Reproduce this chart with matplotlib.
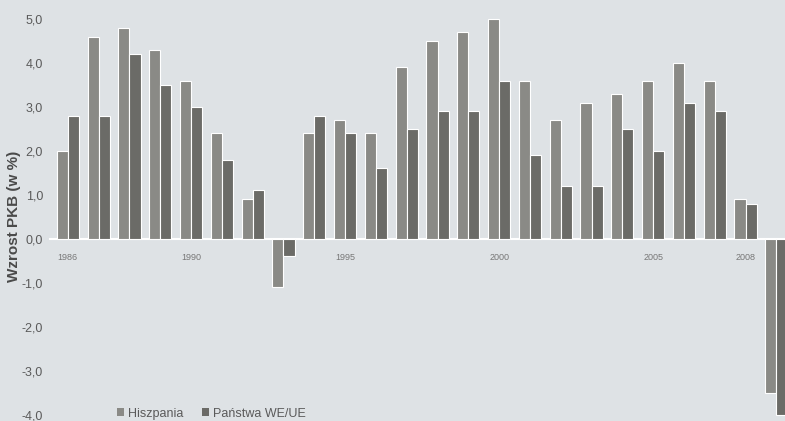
import matplotlib.pyplot as plt
import numpy as np
from matplotlib.patches import Patch


YEARS = list(range(1986, 2010))
HISZPANIA = [2.0, 4.6, 4.8, 4.3, 3.6, 2.4, 0.9, -1.1, 2.4, 2.7, 2.4, 3.9,
             4.5, 4.7, 5.0, 3.6, 2.7, 3.1, 3.3, 3.6, 4.0, 3.6, 0.9, -3.5]
PANSTWA_UE = [2.8, 2.8, 4.2, 3.5, 3.0, 1.8, 1.1, -0.4, 2.8, 2.4, 1.6, 2.5,
              2.9, 2.9, 3.6, 1.9, 1.2, 1.2, 2.5, 2.0, 3.1, 2.9, 0.8, -4.0]
TICK_YEARS = [1986, 1990, 1995, 2000, 2005, 2008]
Y_TICKS = [-4, -3, -2, -1, 0, 1, 2, 3, 4, 5]

BG = "#dee2e5"
COLOR_ES = "#8a8a86"
COLOR_EU = "#6b6b67"
TEXT = "#5a5a5a"

plt.rcParams["font.family"] = ["Liberation Sans", "DejaVu Sans"]


def main() -> None:
    fig = plt.figure(figsize=(7.85, 4.21), dpi=100)
    fig.patch.set_facecolor(BG)
    ax = fig.add_axes([50 / 785, 0, 735 / 785, 1])
    ax.set_facecolor(BG)

    x = np.arange(len(YEARS))
    w = 0.36
    ax.bar(x - w / 2, HISZPANIA, width=w, color=COLOR_ES,
           edgecolor="white", linewidth=0.8)
    ax.bar(x + w / 2, PANSTWA_UE, width=w, color=COLOR_EU,
           edgecolor="white", linewidth=0.8)

    ax.set_xlim(-0.58, 23.28)
    ax.set_ylim(-4.14, 5.43)

    for side in ["top", "right", "left"]:
        ax.spines[side].set_visible(False)
    ax.spines["bottom"].set_position(("data", 0))
    ax.spines["bottom"].set_color("white")
    ax.spines["bottom"].set_linewidth(1.5)
    ax.spines["bottom"].set_zorder(0)

    ax.set_xticks([y - YEARS[0] for y in TICK_YEARS])
    ax.set_xticklabels([str(y) for y in TICK_YEARS])
    ax.tick_params(axis="x", length=0, pad=10, labelsize=6.5, labelcolor="#777777")

    ax.set_yticks(Y_TICKS)
    ax.set_yticklabels([f"{v:.1f}".replace(".", ",") for v in Y_TICKS])
    ax.tick_params(axis="y", length=0, pad=5, labelsize=9, labelcolor=TEXT)

    fig.text(14 / 785, 0.485, "Wzrost PKB (w %)", rotation=90, ha="center",
             va="center", fontsize=11, fontweight="bold", color="#4a4a4a")

    handles = [Patch(facecolor=COLOR_ES, edgecolor="none", label="Hiszpania"),
               Patch(facecolor=COLOR_EU, edgecolor="none", label="Państwa WE/UE")]
    ax.legend(handles=handles, ncol=2, loc="lower left", frameon=False,
              bbox_to_anchor=(106 / 785, -0.024), bbox_transform=fig.transFigure,
              fontsize=9, handlelength=0.55, handleheight=0.6,
              handletextpad=0.3, columnspacing=1.5, labelcolor=TEXT)

    fig.savefig("out.png", dpi=100, facecolor=BG)
    plt.close(fig)


if __name__ == "__main__":
    main()
